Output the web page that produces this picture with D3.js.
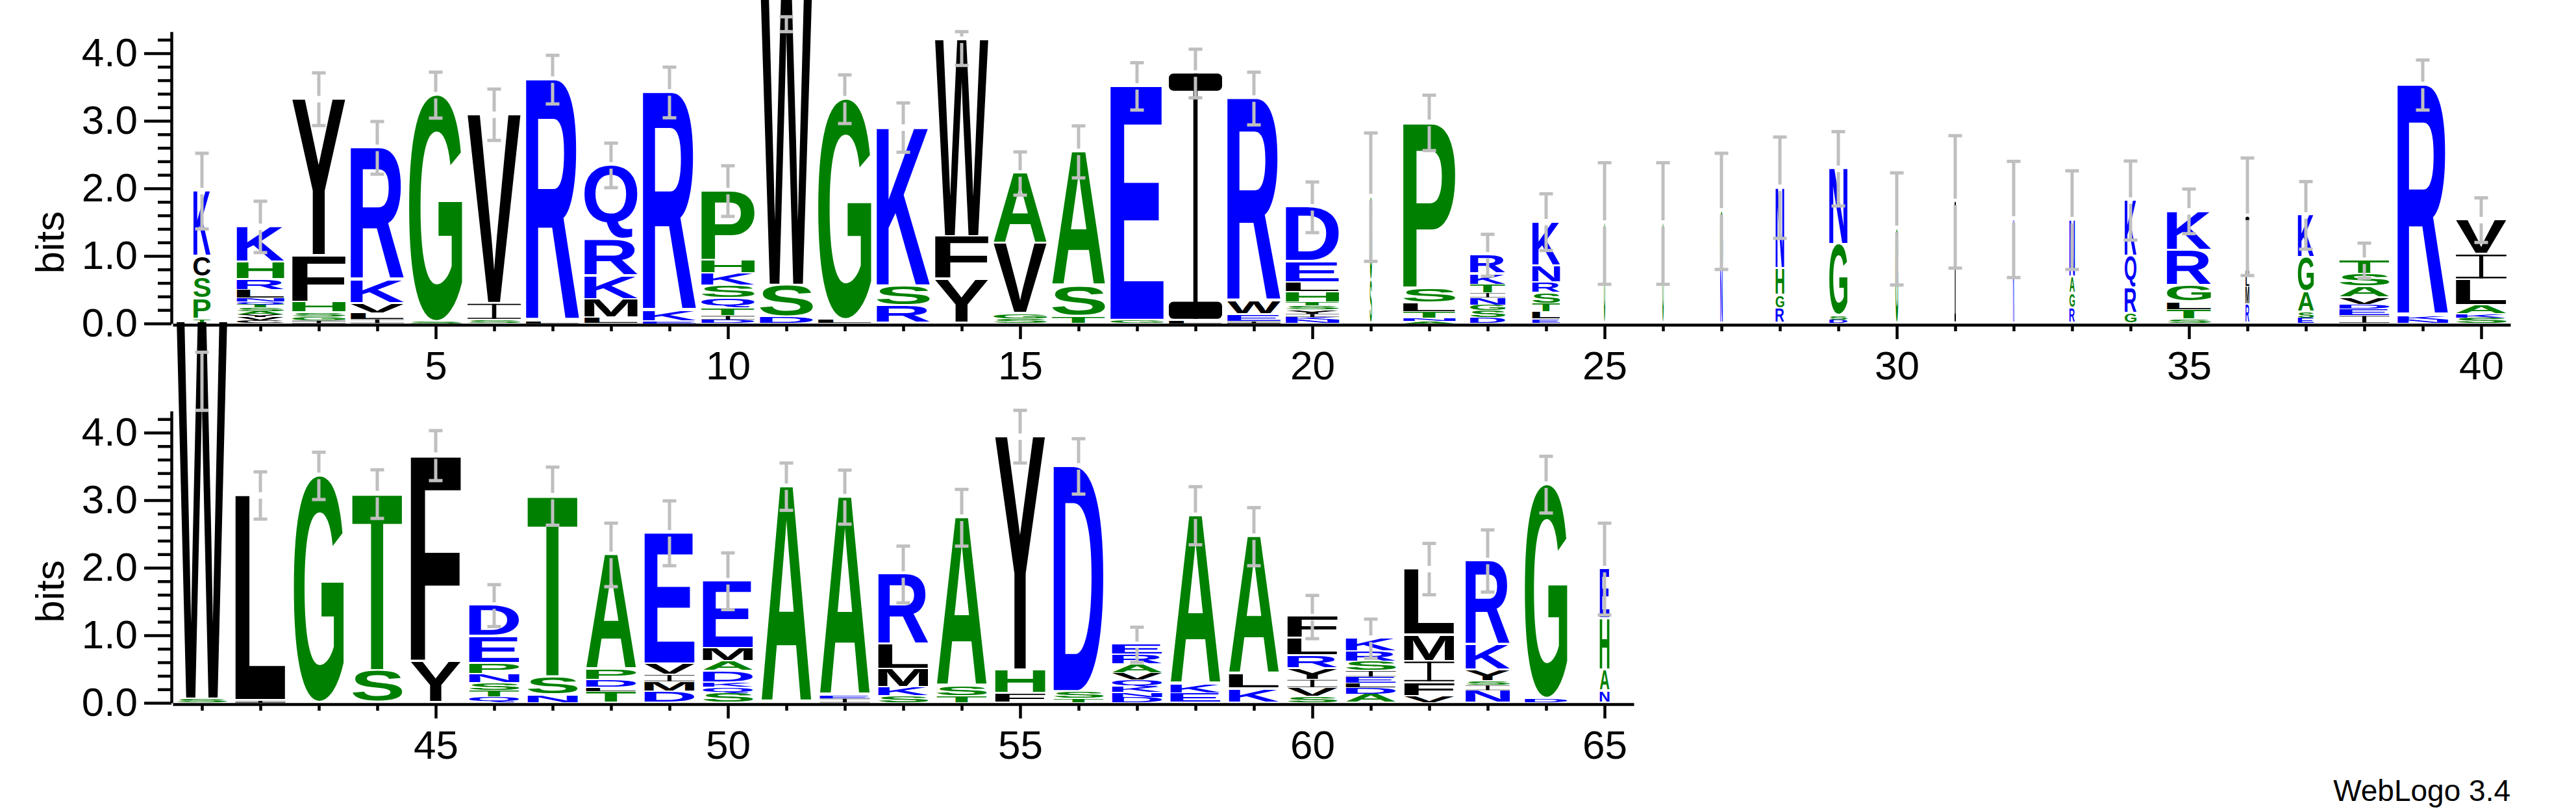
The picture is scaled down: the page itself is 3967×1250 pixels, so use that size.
<!DOCTYPE html>
<html><head><meta charset="utf-8">
<script src="https://cdn.jsdelivr.net/npm/d3@7"></script>
<style>body{margin:0;background:#fff}svg{display:block}</style>
</head><body>
<svg id="c" width="3967" height="1250"></svg>
<script>
// ---------------- DATA ----------------
// stacks: per position, letters bottom -> top with height in bits
const stacks = [
 [["T",.06],["P",.30],["S",.32],["C",.31],["K",.97]],                                   //1
 [["C",.04],["V",.05],["Y",.04],["A",.05],["S",.05],["T",.05],["Q",.04],["N",.05],["L",.12],["R",.15],["H",.26],["K",.53]], //2
 [["I",.04],["G",.06],["S",.06],["H",.15],["F",.69],["Y",2.32]],                        //3
 [["I",.06],["L",.09],["V",.14],["K",.35],["R",1.96]],                                  //4
 [["S",.02],["G",3.36]],                                                                //5
 [["S",.04],["I",.25],["V",2.80]],                                                      //6
 [["L",.03],["R",3.58]],                                                                //7
 [["L",.08],["M",.27],["K",.35],["R",.54],["Q",1.10]],                                  //8
 [["E",.03],["K",.15],["R",3.24]],                                                      //9
 [["D",.05],["I",.06],["T",.11],["Q",.15],["S",.19],["K",.18],["H",.19],["P",1.03]],    //10
 [["D",.09],["S",.47],["W",4.75]],                                                      //11
 [["L",.05],["G",3.27]],                                                                //12
 [["R",.26],["S",.29],["K",2.35]],                                                      //13
 [["Y",.65],["F",.63],["W",2.92]],                                                      //14
 [["S",.07],["G",.07],["V",1.04],["A",1.04]],                                           //15
 [["T",.10],["S",.45],["A",1.99]],                                                      //16
 [["G",.04],["E",3.47]],                                                                //17
 [["L",.04],["I",3.66]],                                                                //18
 [["I",.03],["E",.10],["W",.19],["R",3.01]],                                            //19
 [["N",.05],["K",.04],["I",.05],["Y",.06],["S",.06],["T",.05],["H",.15],["L",.14],["E",.31],["D",.81]], //20
 [["S",.64],["G",1.23]],                                                                //21
 [["A",.03],["N",.04],["T",.10],["L",.13],["S",.22],["P",2.45]],                        //22
 [["D",.08],["S",.11],["G",.08],["N",.11],["I",.07],["T",.12],["K",.16],["R",.28]],     //23
 [["E",.06],["L",.11],["T",.12],["S",.16],["R",.15],["N",.25],["K",.65]],               //24
 [["G",1.48]],                                                                          //25
 [["G",1.48]],                                                                          //26
 [["N",.79],["G",.87]],                                                                 //27
 [["R",.22],["G",.19],["H",.40],["N",1.20]],                                            //28
 [["D",.05],["S",.06],["G",1.05],["N",1.13]],                                           //29
 [["G",1.40]],                                                                          //30
 [["I",1.80]],                                                                          //31
 [["K",1.54]],                                                                          //32
 [["R",.22],["G",.22],["A",.24],["N",.85]],                                             //33
 [["G",.14],["R",.38],["Q",.47],["K",.83]],                                             //34
 [["S",.06],["T",.14],["L",.11],["G",.24],["R",.53],["K",.58]],                         //35
 [["R",.27],["M",.27],["L",.16],["I",.88]],                                             //36
 [["E",.08],["S",.08],["A",.30],["G",.51],["K",.63]],                                   //37
 [["I",.11],["E",.10],["D",.07],["V",.10],["A",.16],["S",.18],["T",.21]],               //38
 [["N",.05],["K",.06],["R",3.42]],                                                      //39
 [["S",.08],["K",.06],["A",.12],["L",.38],["I",.38],["V",.51]],                         //40
 [["S",.05],["W",5.60]],                                                                //41
 [["I",.03],["L",3.04]],                                                                //42
 [["G",3.36]],                                                                          //43
 [["S",.47],["T",2.62]],                                                                //44
 [["Y",.61],["F",3.05]],                                                                //45
 [["Q",.09],["T",.09],["S",.11],["N",.13],["P",.16],["E",.40],["D",.46]],               //46
 [["N",.11],["S",.27],["T",2.68]],                                                      //47
 [["T",.17],["L",.06],["D",.11],["P",.15],["A",1.70]],                                  //48
 [["D",.17],["M",.14],["I",.10],["V",.16],["E",1.94]],                                  //49
 [["S",.14],["Q",.09],["K",.07],["D",.17],["A",.14],["M",.19],["E",1.00]],              //50
 [["A",3.20]],                                                                          //51
 [["I",.06],["E",.045],["A",2.94]],                                                     //52
 [["S",.10],["K",.12],["M",.27],["L",.37],["R",1.04]],                                  //53
 [["T",.10],["S",.14],["A",2.50]],                                                      //54
 [["F",.13],["H",.35],["Y",3.46]],                                                      //55
 [["T",.06],["S",.10],["D",3.34]],                                                      //56
 [["D",.08],["N",.07],["K",.08],["Q",.10],["V",.11],["A",.13],["R",.14],["E",.15]],     //57
 [["E",.14],["K",.13],["A",2.50]],                                                      //58
 [["K",.20],["L",.22],["A",2.04]],                                                      //59
 [["S",.09],["V",.13],["I",.12],["Y",.17],["R",.18],["L",.26],["F",.32]],               //60
 [["A",.12],["D",.10],["L",.07],["E",.09],["I",.09],["S",.14],["R",.15],["K",.19]],     //61
 [["V",.09],["F",.20],["I",.32],["M",.39],["L",.98]],                                   //62
 [["N",.18],["I",.08],["S",.06],["Y",.16],["K",.37],["R",1.25]],                        //63
 [["D",.06],["G",3.17]],                                                                //64
 [["N",.17],["A",.31],["H",.76],["E",.74]]                                              //65
];
// relative stack width (occupancy)
const stackWidth = [
 .32,.89,1,1,1,1,1,1,1,1, 1,1,1,1,1,1,1,1,1,1,
 .04,.98,.66,.52,.025,.025,.045,.16,.34,.05, .025,.025,.10,.22,.83,.07,.30,.94,.95,.95,
 .95,.94,.94,.94,.94,.94,.94,.94,.94,.94, .94,.94,.94,.94,.94,.94,.94,.94,.94,.94,
 .94,.94,.83,.80,.18
];
// error bar half-length in bits
const errHalf = [
 .56,.38,.39,.39,.34,.38,.36,.33,.375,.375, .11,.36,.365,.25,.32,.385,.35,.36,.39,.375,
 .95,.41,.31,.42,.90,.90,.86,.75,.55,.83, .98,.86,.73,.585,.33,.87,.50,.26,.37,.33,
 .43,.35,.35,.36,.37,.31,.43,.47,.48,.42, .35,.40,.42,.42,.39,.41,.26,.43,.43,.32,
 .29,.38,.46,.42,.68
];
// information content (error-bar centre) where it differs from the drawn stack
const infoOverride = {11: 4.43, 14: 4.07, 41: 4.76};
const yTickValues = [0, 1, 2, 3, 4];
const xTickLabels = [5,10,15,20,25,30,35,40,45,50,55,60,65];
const rows = [[1, 40], [41, 65]];
const yLabel = "bits";
const creditText = "WebLogo 3.4";

// ---------------- RENDER ----------------
const FONT_FAMILY = "'Liberation Sans', Arial, Helvetica, sans-serif";
const colorOf = l => "RKDENQ".includes(l) ? "#0000ff" : ("SGHTAP".includes(l) ? "#008000" : "#000000");
const cv = document.createElement("canvas").getContext("2d");
cv.font = "bold 200px " + FONT_FAMILY;
const metrics = {};
"ACDEFGHIKLMNPQRSTVWY".split("").forEach(ch => {
  const m = cv.measureText(ch);
  metrics[ch] = {L: m.actualBoundingBoxLeft, R: m.actualBoundingBoxRight, A: m.actualBoundingBoxAscent, D: m.actualBoundingBoxDescent};
});

const svg = d3.select("#c");
svg.append("rect").attr("width", 3967).attr("height", 1250).attr("fill", "#fff");
const BIT_MAX = 4.32, PX_PER_BIT = 104, COL = 90, LEFT = 266, AXIS_X = 264, MAXW = 82;
const rowBase = [498, 1082];
const labelCenter = [1.2, 1.65];

function drawGlyph(g, ch, x, y, w, h) {
  if (h <= 0.3 || w <= 0) return;
  const col = colorOf(ch);
  if (ch === "I") {
    // serif-style I: top bar, thin stem, bottom bar
    const bar = Math.max(0.6, h * 0.07);
    const stem = Math.max(1.2, w * 0.08);
    const rx = Math.min(bar / 3, 7);
    g.append("rect").attr("x", x).attr("y", y).attr("width", w).attr("height", bar).attr("rx", rx).attr("fill", col);
    g.append("rect").attr("x", x + w / 2 - stem / 2).attr("y", y).attr("width", stem).attr("height", h).attr("fill", col);
    g.append("rect").attr("x", x).attr("y", y + h - bar).attr("width", w).attr("height", bar).attr("rx", rx).attr("fill", col);
    return;
  }
  const m = metrics[ch];
  const sx = w / (m.L + m.R), sy = h / (m.A + m.D);
  g.append("text").text(ch)
    .attr("font-family", FONT_FAMILY).attr("font-weight", "bold").attr("font-size", 200)
    .attr("fill", col)
    .attr("transform", `translate(${x + m.L * sx},${y + m.A * sy}) scale(${sx},${sy})`);
}

rows.forEach(([a, b], ri) => {
  const y0 = rowBase[ri];
  const xs = d3.scaleLinear().domain([a - 0.5, b + 0.5]).range([LEFT, LEFT + (b - a + 1) * COL]);
  const ys = d3.scaleLinear().domain([0, BIT_MAX]).range([y0, y0 - BIT_MAX * PX_PER_BIT]);
  const g = svg.append("g");
  const gl = g.append("g"), ge = g.append("g");

  for (let p = a; p <= b; p++) {
    const st = stacks[p - 1];
    const w = stackWidth[p - 1] * MAXW;
    const cx = xs(p);
    let acc = 0;
    st.forEach(([ch, h]) => {
      const yb = ys(acc), yt = ys(acc + h);
      acc += h;
      const hh = yb - yt;
      const gap = Math.min(3, hh * 0.12);
      drawGlyph(gl, ch, cx - w / 2, yt, w, hh - gap);
    });
    const info = infoOverride[p] !== undefined ? infoOverride[p] : acc;
    const e = errHalf[p - 1];
    const yTop = ys(info + e), yBot = ys(info - e), yS = ys(acc);
    const gp = 5;
    const segs = [];
    if (yS - gp > yTop && yS + gp < yBot) { segs.push([yTop, yS - gp], [yS + gp, yBot]); }
    else segs.push([yTop, yBot]);
    segs.forEach(([s1, s2]) => ge.append("line").attr("x1", cx).attr("x2", cx).attr("y1", s1).attr("y2", s2)
      .attr("stroke", "#bfbfbf").attr("stroke-width", 5));
    [yTop, yBot].forEach(yy => ge.append("line").attr("x1", cx - 10.5).attr("x2", cx + 10.5).attr("y1", yy).attr("y2", yy)
      .attr("stroke", "#bfbfbf").attr("stroke-width", 5));
  }

  // y axis
  g.append("g").attr("transform", `translate(${AXIS_X},0)`)
    .call(d3.axisLeft(ys).tickValues(yTickValues).tickSize(42).tickSizeOuter(0).tickPadding(10).tickFormat(d3.format(".1f")));
  const minor = d3.range(1, 22).map(i => i * 0.2).filter(v => Math.abs(v - Math.round(v)) > 1e-6);
  g.append("g").attr("transform", `translate(${AXIS_X},0)`)
    .call(d3.axisLeft(ys).tickValues(minor).tickSize(21).tickFormat(""))
    .call(s => s.select(".domain").remove());
  // x axis
  const gx = g.append("g").attr("transform", `translate(0,${y0 + 2})`)
    .call(d3.axisBottom(xs).tickValues(d3.range(a, b + 1)).tickSize(10).tickSizeOuter(0)
      .tickFormat(d => xTickLabels.includes(d) ? d : ""));
  gx.selectAll(".tick").filter(d => xTickLabels.includes(d)).select("line").attr("y2", 22);
  gx.selectAll(".tick text").attr("y", 40);

  g.selectAll(".domain").attr("stroke", "#000").attr("stroke-width", 4.5);
  g.selectAll(".tick line").attr("stroke", "#000").attr("stroke-width", 4.5);
  g.selectAll("g").attr("font-size", null).attr("font-family", null);
  g.selectAll(".tick text").attr("font-family", FONT_FAMILY).attr("font-size", 62).attr("fill", "#000");

  // y label
  g.append("text").text(yLabel)
    .attr("transform", `translate(98,${ys(labelCenter[ri])}) rotate(-90)`)
    .attr("text-anchor", "middle").attr("font-family", FONT_FAMILY).attr("font-size", 62);
});

svg.append("text").text(creditText).attr("x", 3866).attr("y", 1233).attr("text-anchor", "end")
  .attr("font-family", FONT_FAMILY).attr("font-size", 46);
</script>
</body></html>
